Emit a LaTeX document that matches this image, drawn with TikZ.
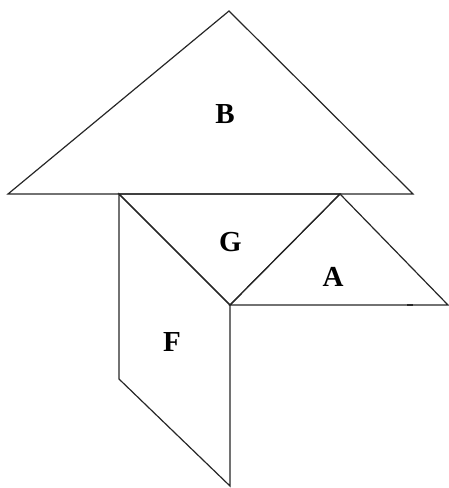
\documentclass[tikz,border=0pt]{standalone}
\usepackage{fontspec}
\setmainfont{Liberation Serif}
\tikzset{
  piece/.style={draw=black!85, line width=1.2pt, line join=miter},
  lbl/.style={font=\fontsize{29}{31}\selectfont\bfseries, inner sep=0pt}
}
\begin{document}
\begin{tikzpicture}[x=1pt,y=-1pt]
\useasboundingbox (0,0) rectangle (449,488);
% vertices
\coordinate (Bt) at (229,11);
\coordinate (Bl) at (8,194);
\coordinate (Br) at (413,194);
\coordinate (Ftl) at (119,194);
\coordinate (Gr) at (340,194);
\coordinate (M) at (230,305);
\coordinate (Ar) at (448,305);
\coordinate (Fbl) at (119,379);
\coordinate (Fb) at (230,486);
% pieces
\draw[piece] (Bt) -- (Bl) -- (Br) -- cycle;
\draw[piece] (Ftl) -- (Gr) -- (M) -- cycle;
\draw[piece] (Gr) -- (Ar) -- (M) -- cycle;
\draw[piece] (Ftl) -- (M) -- (Fb) -- (Fbl) -- cycle;
% small tick
\coordinate (t1) at (407,305);
\coordinate (t2) at (413,305);
\draw[line width=2pt, black!85] (t1) -- (t2);
% labels
\node[lbl] (B) at (225,114) {B};
\node[lbl] (G) at (230.5,242) {G};
\node[lbl] (A) at (333,277) {A};
\node[lbl] (F) at (172,342) {F};
\end{tikzpicture}
\end{document}
